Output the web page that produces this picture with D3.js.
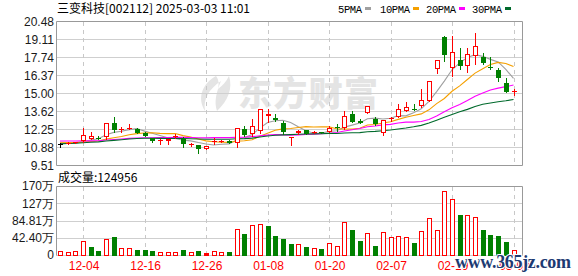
<!DOCTYPE html>
<html>
<head>
<meta charset="utf-8">
<style>
  body { margin: 0; background: #fff; }
  svg { display: block; }
  .ylab text { font: 12px "Liberation Sans", Arial, sans-serif; fill: #1a1a1a; }
  .xlab text { font: 12px "Liberation Sans", Arial, sans-serif; fill: #ff0000; }
</style>
</head>
<body>
<script src="https://cdn.jsdelivr.net/npm/d3@7"></script>
<script>
// 日K数据（价格：元，成交量：万手）
var dates = ["11-29","12-02","12-03","12-04","12-05","12-06","12-09","12-10","12-11","12-12",
             "12-13","12-16","12-17","12-18","12-19","12-20","12-23","12-24","12-25","12-26",
             "12-27","12-30","12-31","01-02","01-03","01-06","01-07","01-08","01-09","01-10",
             "01-13","01-14","01-15","01-16","01-17","01-20","01-21","01-22","01-23","01-24",
             "01-27","02-05","02-06","02-07","02-10","02-11","02-12","02-13","02-14","02-17",
             "02-18","02-19","02-20","02-21","02-24","02-25","02-26","02-27","02-28","03-03"];
var opens  = [11.09,11.18,11.22,11.36,11.51,11.60,11.67,12.71,12.20,12.24,
              12.23,11.95,11.55,11.36,11.32,11.68,11.47,11.08,11.03,10.75,
              11.32,11.33,11.36,11.21,12.25,11.85,12.12,13.24,13.06,12.69,
              11.60,11.92,12.15,12.00,12.02,12.05,12.40,12.31,13.37,12.85,
              13.50,13.04,11.92,13.00,13.19,13.66,13.80,14.00,14.41,16.80,
              19.28,16.87,17.51,17.05,17.81,17.76,16.97,16.75,15.75,15.10];
var highs  = [11.21,11.28,11.30,12.31,12.02,11.72,12.72,13.14,12.38,12.61,
              12.30,12.00,11.58,11.52,11.49,11.87,11.67,11.18,11.05,10.95,
              11.60,11.45,11.38,12.32,12.48,13.00,13.80,13.75,13.42,12.89,
              11.65,12.14,12.20,12.10,12.06,12.45,12.60,13.65,13.65,13.04,
              14.02,13.20,12.96,13.20,14.16,14.29,14.17,15.28,15.90,17.50,
              19.30,19.34,18.44,18.44,19.59,18.05,17.76,16.92,16.14,15.30];
var lows   = [10.86,11.14,11.18,11.29,11.48,11.47,11.49,12.05,12.05,12.22,
              11.93,11.70,11.26,11.13,11.13,11.60,10.90,10.98,10.45,10.73,
              11.10,11.25,11.18,10.90,11.75,11.72,11.97,12.81,12.90,11.87,
              11.03,11.90,11.85,11.92,11.95,12.02,12.10,12.23,12.78,12.68,
              13.48,12.58,11.79,12.90,13.15,13.62,13.70,13.90,14.35,16.54,
              17.45,16.29,16.80,16.62,17.24,17.20,16.80,15.93,15.08,14.84];
var closes = [11.09,11.22,11.26,11.80,11.70,11.58,12.71,12.18,12.24,12.32,
              11.97,11.75,11.37,11.38,11.47,11.70,11.09,11.10,10.73,10.93,
              11.34,11.36,11.22,12.31,11.79,12.48,13.78,13.40,12.94,12.00,
              11.63,12.12,11.88,12.03,11.98,12.35,12.37,13.24,12.81,12.74,
              14.00,12.61,12.94,13.06,13.75,13.90,13.77,14.46,15.88,17.49,
              17.91,18.09,17.07,17.94,18.57,17.26,16.94,16.11,15.10,15.12];
var volumes = [10,7,9,34,20,10,39,45,17,17,
               12,12,10,7,7,7,12,7,10,5,
               9,7,7,64,52,74,76,71,47,39,
               27,27,20,17,15,29,22,81,62,34,
               53,22,57,44,46,44,30,58,90,61,
               158,137,98,98,93,62,49,46,32,12.4956];
// 11-29 之前的收盘价（用于均线起点）
var priorCloses = [10.52,10.60,10.58,10.66,10.70,10.64,10.72,10.75,10.80,10.83,
                   11.20,11.35,11.58,11.62,11.50,11.48,11.55,11.40,11.38,11.34,
                   11.40,11.30,11.28,11.35,11.27,11.25,11.20,11.21,11.05];

var priceTicks = [9.51, 10.88, 12.25, 13.62, 15.00, 16.37, 17.74, 19.11, 20.48];
var volTicks = [0, 42.5, 85, 127.5, 170];
var volTickLabels = ["0", "42.40万", "84.81万", "127万", "170万"];
var dateTicks = ["12-04","12-16","12-26","01-08","01-20","02-07","02-19","03-03"];
var maPeriods = [5, 10, 20, 30];
var maColors = ["#a0a0a0", "#f5a000", "#ff00ff", "#006a2c"];

var W = 578, H = 276;
var L = 56.5, R = 522.5;
var up = "#ff0000", down = "#008000";

var svg = d3.select("body").append("svg").attr("width", W).attr("height", H);

var x = d3.scalePoint().domain(dates).range([60, 513.5]);
var y = d3.scaleLinear().domain([9.51, 20.48]).range([165, 21]);
var yv = d3.scaleLinear().domain([0, 170]).range([255, 186]);
var px = function(d) { return Math.round(x(d)); };

// 水印
var wm = svg.append("g").attr("fill", "#e4e4e4");
wm.append("path")
  .attr("d", "M216,76 C202,84 197,98 205,111 C203,99 209,89 221,81 C216,93 214,102 217,111 C228,101 233,88 229,76 C226,82 222,86 218,89 C219,84 219,80 216,76 Z");
wm.append("text").attr("x", 238).attr("y", 106)
  .attr("font-family", "'Noto Sans CJK SC', sans-serif").attr("font-weight", 900)
  .attr("font-size", 34).attr("textLength", 140).text("东方财富");

// 网格
function hgrid(g, scale, ticks, ends) {
  g.selectAll("line").data(ticks).join("line")
    .attr("x1", L).attr("x2", R)
    .attr("y1", function(d) { return Math.round(scale(d)) + 0.5; })
    .attr("y2", function(d) { return Math.round(scale(d)) + 0.5; })
    .attr("stroke", function(d, i) { return ends.indexOf(i) >= 0 ? "#999" : "#cfcfcf"; });
}
hgrid(svg.append("g"), y, priceTicks, [0, priceTicks.length - 1]);
hgrid(svg.append("g"), yv, volTicks, [volTicks.length - 1]);

[[21, 165], [186, 255]].forEach(function(r) {
  svg.append("g").selectAll("line").data(dateTicks).join("line")
    .attr("x1", function(d) { return px(d) + 0.5; })
    .attr("x2", function(d) { return px(d) + 0.5; })
    .attr("y1", r[0] + 1).attr("y2", r[1])
    .attr("stroke", "#c8c8c8").attr("stroke-dasharray", "4,4");
  svg.append("line").attr("x1", L).attr("x2", L).attr("y1", r[0] + 0.5).attr("y2", r[1] + 0.5).attr("stroke", "#999");
  svg.append("line").attr("x1", R).attr("x2", R).attr("y1", r[0] + 0.5).attr("y2", r[1] + 0.5).attr("stroke", "#999");
});

// 坐标轴
svg.append("g").attr("class", "ylab").attr("transform", "translate(57,0.5)")
  .call(d3.axisLeft(y).tickValues(priceTicks).tickFormat(d3.format(".2f")).tickSize(0).tickPadding(3))
  .call(function(g) { g.select(".domain").remove(); });
svg.append("g").attr("class", "ylab").attr("transform", "translate(57,0)")
  .call(d3.axisLeft(yv).tickValues(volTicks).tickFormat(function(d, i) { return volTickLabels[i]; }).tickSize(0).tickPadding(3))
  .call(function(g) { g.select(".domain").remove(); });
svg.append("g").attr("class", "xlab").attr("transform", "translate(0.5,258)")
  .call(d3.axisBottom(x).tickValues(dateTicks).tickSize(0).tickPadding(3))
  .call(function(g) { g.select(".domain").remove(); });

// 均线
var allCloses = priorCloses.concat(closes);
var n0 = priorCloses.length;
var clip = svg.append("clipPath").attr("id", "pc").append("rect")
  .attr("x", L + 0.5).attr("y", 21.5).attr("width", R - L - 1).attr("height", 143);
maPeriods.forEach(function(p, k) {
  var ma = dates.map(function(d, i) {
    return d3.mean(allCloses.slice(n0 + i - p + 1, n0 + i + 1));
  });
  svg.append("path").datum(ma)
    .attr("clip-path", "url(#pc)")
    .attr("fill", "none").attr("stroke", maColors[k]).attr("stroke-width", 1.1)
    .attr("d", d3.line().x(function(v, i) { return x(dates[i]); }).y(function(v) { return y(v); }));
});

// K线
var candles = svg.append("g");
dates.forEach(function(d, i) {
  var cx = px(d), o = opens[i], c = closes[i];
  var col = c > o ? up : (c < o ? down : "#000");
  candles.append("line")
    .attr("x1", cx + 0.5).attr("x2", cx + 0.5)
    .attr("y1", Math.round(y(highs[i]))).attr("y2", Math.round(y(lows[i])) + 1)
    .attr("stroke", col);
  var yt = Math.round(y(Math.max(o, c))), yb = Math.round(y(Math.min(o, c)));
  if (yb - yt < 2) {
    candles.append("rect").attr("x", cx - 2).attr("y", yt).attr("width", 5).attr("height", Math.max(1, yb - yt)).attr("fill", col);
  } else if (c > o) {
    candles.append("rect").attr("x", cx - 1.5).attr("y", yt + 0.5).attr("width", 4).attr("height", yb - yt - 1)
      .attr("fill", "#fff").attr("stroke", up);
  } else {
    candles.append("rect").attr("x", cx - 2).attr("y", yt).attr("width", 5).attr("height", yb - yt).attr("fill", down);
  }
});

// 成交量（与前一日收盘比较）
var bars = svg.append("g");
dates.forEach(function(d, i) {
  var prev = i > 0 ? closes[i - 1] : priorCloses[n0 - 1];
  var rise = closes[i] >= prev;
  var cx = px(d), yt = Math.round(yv(volumes[i])), yb = 255;
  if (!rise) {
    bars.append("rect").attr("x", cx - 2).attr("y", yt).attr("width", 5).attr("height", yb - yt + 1).attr("fill", down);
  } else if (yb - yt < 3) {
    bars.append("rect").attr("x", cx - 2).attr("y", yt).attr("width", 5).attr("height", yb - yt + 1).attr("fill", up);
  } else {
    bars.append("rect").attr("x", cx - 1.5).attr("y", yt + 0.5).attr("width", 4).attr("height", yb - yt)
      .attr("fill", "#fff").attr("stroke", up);
  }
});

// 标题与图例
svg.append("text").attr("x", 57).attr("y", 13)
  .attr("font-family", "'Noto Sans CJK SC', sans-serif").attr("font-size", 12).attr("fill", "#000")
  .text("三变科技[002112] 2025-03-03 11:01");
var legX = [338, 380, 426, 472];
maPeriods.forEach(function(p, k) {
  var t = p + "PMA";
  svg.append("text").attr("x", legX[k]).attr("y", 12.5)
    .attr("font-family", "'Liberation Mono', monospace").attr("font-size", 10.5).attr("fill", "#000")
    .attr("textLength", t.length * 6).text(t);
  svg.append("rect").attr("x", legX[k] + t.length * 6 + 3).attr("y", 7).attr("width", 6).attr("height", 3).attr("fill", maColors[k]);
});
svg.append("text").attr("x", 58).attr("y", 181.5)
  .attr("font-family", "'Noto Sans CJK SC', sans-serif").attr("font-size", 12).attr("fill", "#000")
  .text("成交量:" + Math.round(volumes[volumes.length - 1] * 10000));

// 网站水印
svg.append("text").attr("x", 455).attr("y", 268)
  .attr("font-family", "'Liberation Serif', serif").attr("font-weight", "bold").attr("font-size", 18)
  .attr("fill", "#1d3a72").attr("stroke", "#fff").attr("stroke-width", 2).attr("paint-order", "stroke")
  .attr("textLength", 116).text("www.365jz.com");
</script>
</body>
</html>
